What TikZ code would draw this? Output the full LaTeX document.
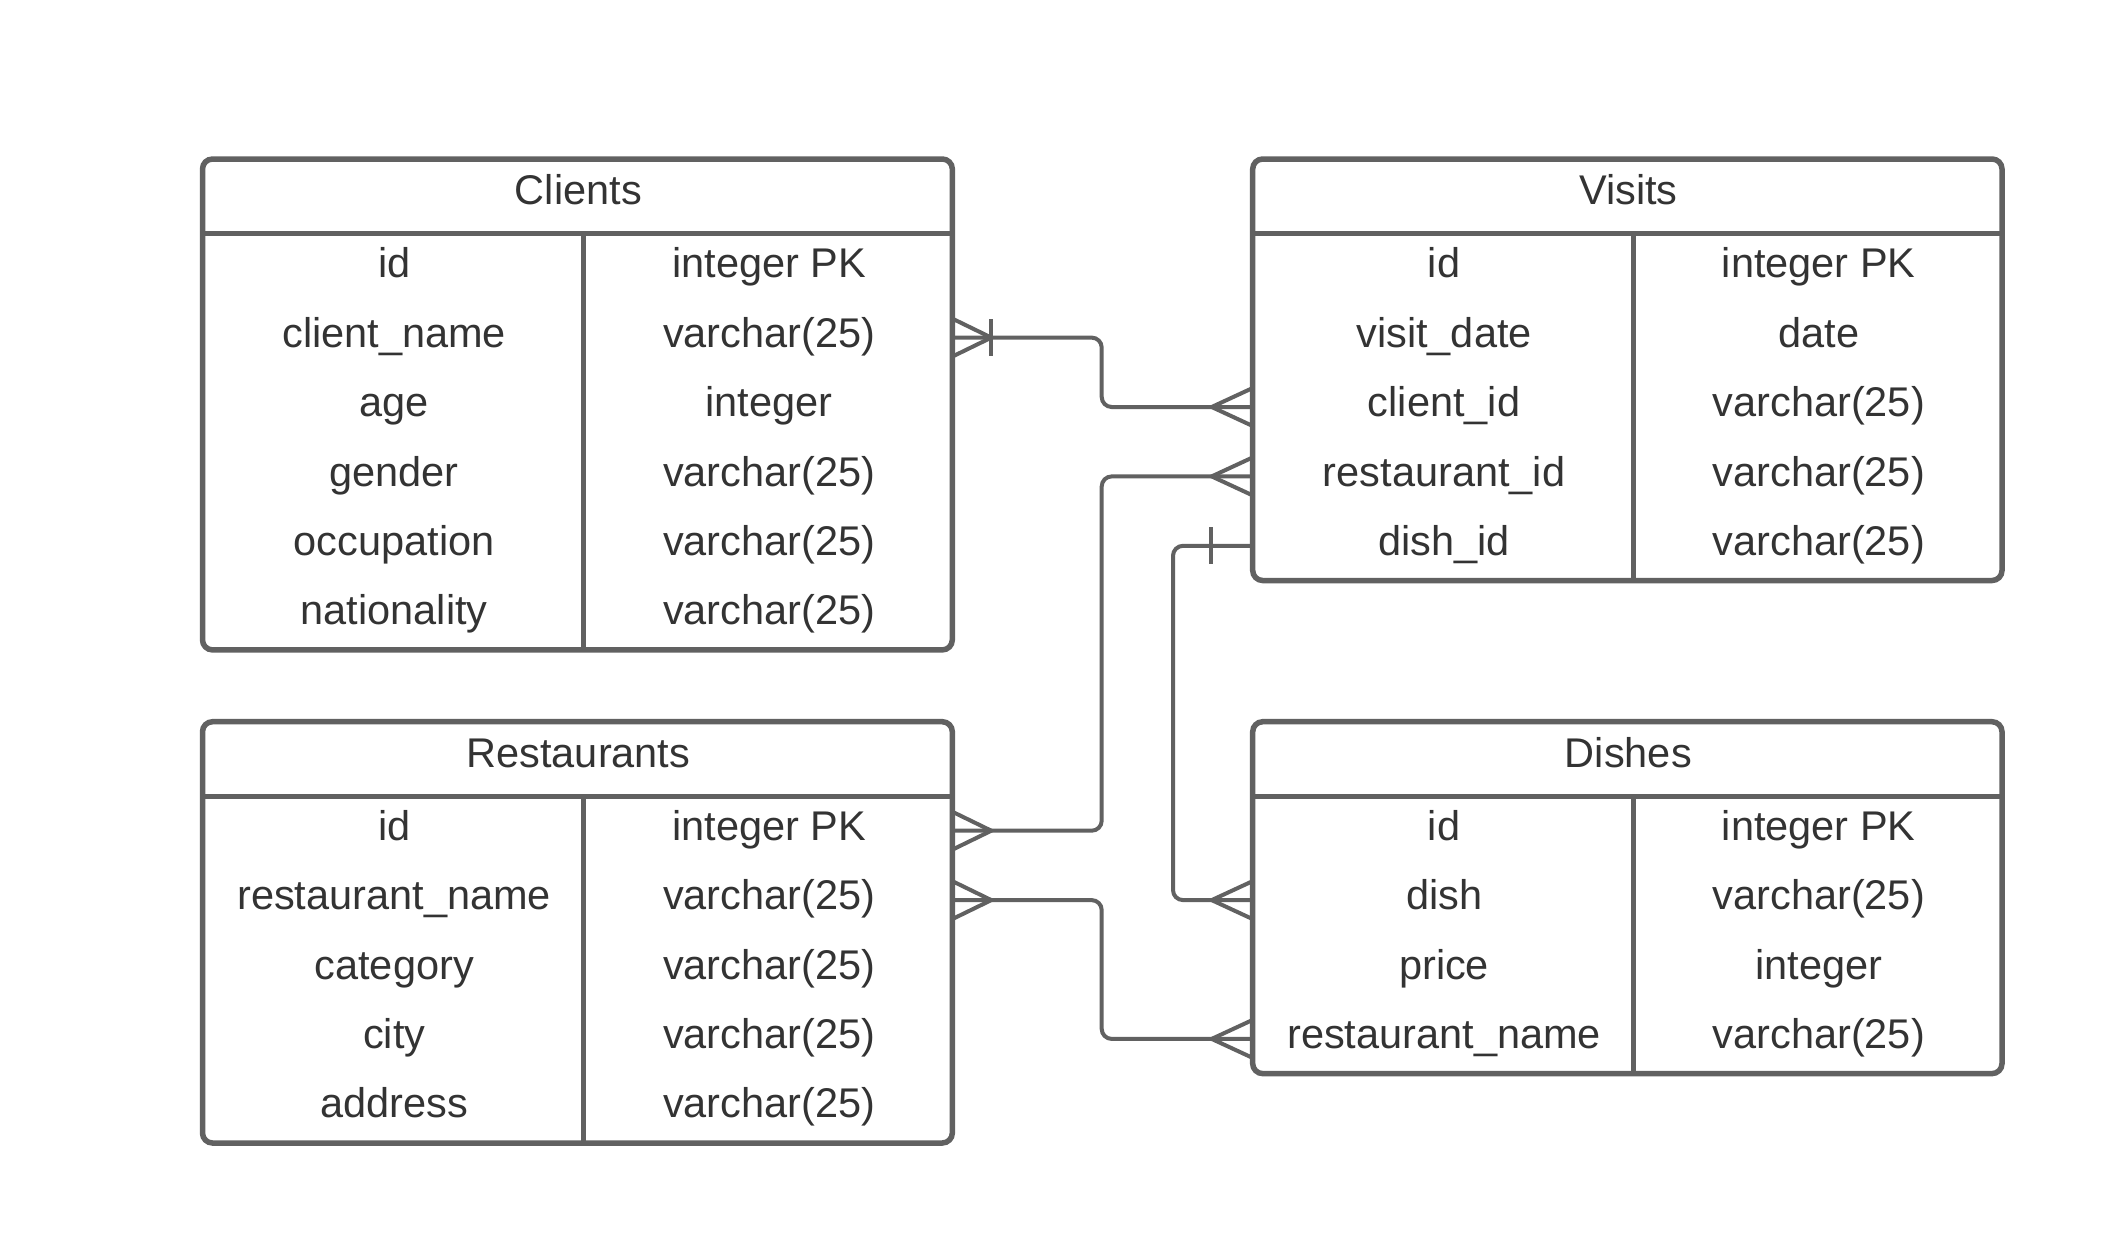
\documentclass[tikz,border=0pt]{standalone}
\usepackage{fontspec}
\setmainfont{Liberation Sans}
\usetikzlibrary{calc}
\definecolor{ln}{HTML}{616161}
\definecolor{tx}{HTML}{333333}
\tikzset{
  tbl/.style={draw=ln, line width=5.5pt, rounded corners=10pt, rectangle, inner sep=0pt, outer sep=0pt, anchor=north west, fill=white},
  sepline/.style={draw=ln, line width=5pt},
  conn/.style={draw=ln, line width=4pt, rounded corners=10pt},
  crowline/.style={draw=ln, line width=4pt},
  txt/.style={text=tx, font=\fontsize{41.5}{48}\selectfont, anchor=base, inner sep=0pt},
  crowr/.pic={\draw[crowline] (0,-19) -- (39,0) -- (0,19);},
  crowl/.pic={\draw[crowline] (0,-19) -- (-41,0) -- (0,19);},
  onebar/.pic={\draw[crowline] (0,-18.5) -- (0,18.5);},
}
\begin{document}
\begin{tikzpicture}[x=1pt, y=-1pt]
\path[use as bounding box, fill=white] (0,0) rectangle (2115,1256);

% ---------- Clients ----------
\node[tbl, minimum width=749.8pt, minimum height=490.9pt] (clients) at (202.5,159) {};
\draw[sepline] (202.5,233.5) -- (952.3,233.5);
\draw[sepline] (583.8,233.5) -- (583.8,649.9);
\node[txt] (cl-h) at (578.4,204.8) {Clients};
\foreach \n/\t [count=\i] in {id/integer PK, client\_name/varchar(25), age/integer, gender/varchar(25), occupation/varchar(25), nationality/varchar(25)}{
  \node[txt] (cl-n\i) at (394.2,{268.2+69.4*(\i-1)+9.6}) {\n};
  \node[txt] (cl-t\i) at (769.1,{268.2+69.4*(\i-1)+9.6}) {\t};
}

% ---------- Visits ----------
\node[tbl, minimum width=749.3pt, minimum height=421.5pt] (visits) at (1252.7,159) {};
\draw[sepline] (1252.7,233.5) -- (2002,233.5);
\draw[sepline] (1633.5,233.5) -- (1633.5,580.5);
\node[txt] (vi-h) at (1628.4,204.8) {Visits};
\foreach \n/\t [count=\i] in {id/integer PK, visit\_date/date, client\_id/varchar(25), restaurant\_id/varchar(25), dish\_id/varchar(25)}{
  \node[txt] (vi-n\i) at (1444.1,{268.2+69.4*(\i-1)+9.6}) {\n};
  \node[txt] (vi-t\i) at (1818.8,{268.2+69.4*(\i-1)+9.6}) {\t};
}

% ---------- Restaurants ----------
\node[tbl, minimum width=749.8pt, minimum height=421.3pt] (restaurants) at (202.5,721.7) {};
\draw[sepline] (202.5,796) -- (952.3,796);
\draw[sepline] (583.8,796) -- (583.8,1143);
\node[txt] (re-h) at (578.4,767.5) {Restaurants};
\foreach \n/\t [count=\i] in {id/integer PK, restaurant\_name/varchar(25), category/varchar(25), city/varchar(25), address/varchar(25)}{
  \node[txt] (re-n\i) at (394.2,{830.7+69.4*(\i-1)+9.6}) {\n};
  \node[txt] (re-t\i) at (769.1,{830.7+69.4*(\i-1)+9.6}) {\t};
}

% ---------- Dishes ----------
\node[tbl, minimum width=749.3pt, minimum height=351.9pt] (dishes) at (1252.7,721.7) {};
\draw[sepline] (1252.7,796) -- (2002,796);
\draw[sepline] (1633.5,796) -- (1633.5,1073.6);
\node[txt] (di-h) at (1628.4,767.5) {Dishes};
\foreach \n/\t [count=\i] in {id/integer PK, dish/varchar(25), price/integer, restaurant\_name/varchar(25)}{
  \node[txt] (di-n\i) at (1444.1,{830.7+69.4*(\i-1)+9.6}) {\n};
  \node[txt] (di-t\i) at (1818.8,{830.7+69.4*(\i-1)+9.6}) {\t};
}

% ---------- connector ends ----------
\coordinate (cl-c2) at (952.3,337.6);
\coordinate (vi-c3) at (1252.7,407);
\coordinate (vi-c4) at (1252.7,476.4);
\coordinate (vi-c5) at (1252.7,545.8);
\coordinate (re-c1) at (952.3,830.7);
\coordinate (re-c2) at (952.3,900.1);
\coordinate (di-c2) at (1252.7,900.1);
\coordinate (di-c4) at (1252.7,1038.9);

% ---------- connectors ----------
\draw[conn] (cl-c2) -- ++(149.4,0) |- (vi-c3);
\draw[conn] (re-c1) -- ++(149.4,0) |- (vi-c4);
\draw[conn] (vi-c5) -- ++(-79.7,0) |- (di-c2);
\draw[conn] (re-c2) -- ++(149.4,0) |- (di-c4);

% ---------- end marks ----------
\pic at (cl-c2) {crowr};
\pic at ($(cl-c2)+(39,0)$) {onebar};
\pic at (vi-c3) {crowl};
\pic at (vi-c4) {crowl};
\pic at ($(vi-c5)+(-42,0)$) {onebar};
\pic at (re-c1) {crowr};
\pic at (re-c2) {crowr};
\pic at (di-c2) {crowl};
\pic at (di-c4) {crowl};
\end{tikzpicture}
\end{document}
